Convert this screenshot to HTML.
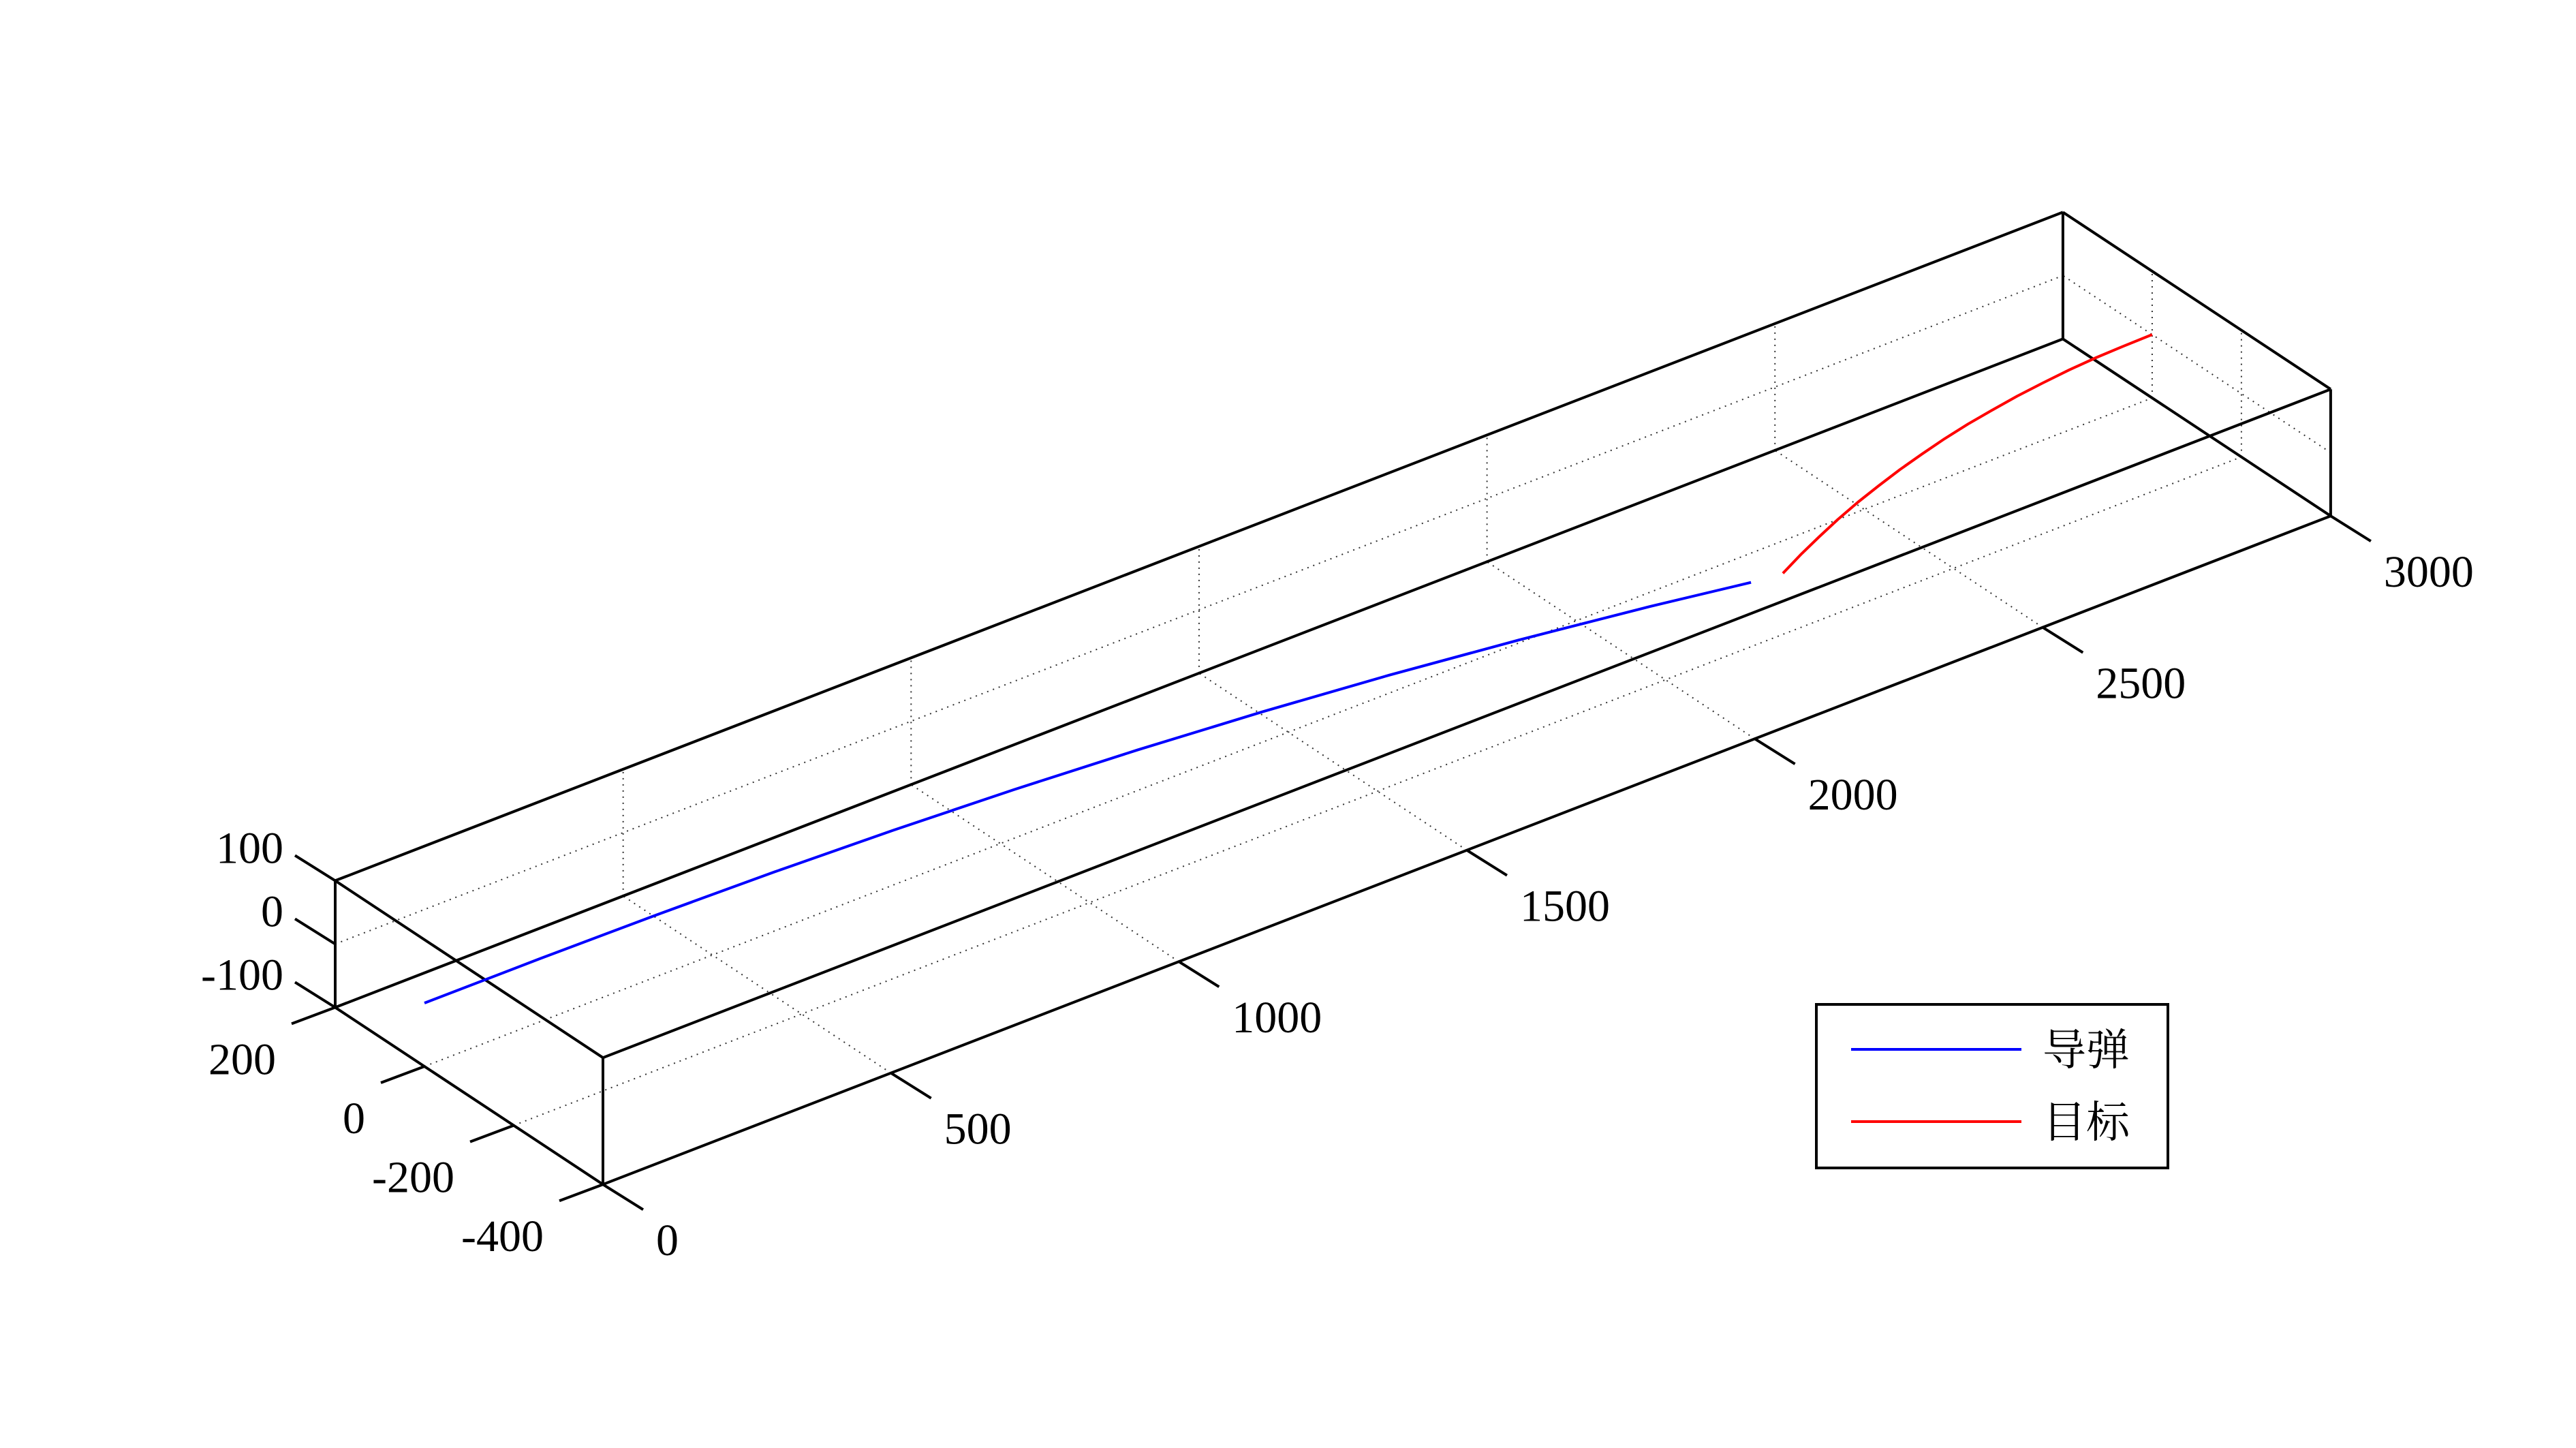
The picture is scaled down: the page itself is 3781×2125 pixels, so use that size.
<!DOCTYPE html>
<html><head><meta charset="utf-8"><style>
html,body{margin:0;padding:0;background:#fff;}
svg{display:block;}
text{font-family:"Liberation Serif","Noto Serif CJK SC",serif;fill:#000;}
</style></head>
<body>
<svg id="chart" width="3781" height="2125" viewBox="0 0 3781 2125" xmlns="http://www.w3.org/2000/svg">
<rect x="0" y="0" width="3781" height="2125" fill="#fff"/>
<g id="grid"></g>
<g id="box"></g>
<g id="ticks"></g>
<g id="series"></g>
<g>
  <rect x="2666" y="1474" width="516" height="240" fill="#fff" stroke="#000" stroke-width="4"/>
  <line x1="2717" y1="1540" x2="2967" y2="1540" stroke="#0000ff" stroke-width="4"/>
  <text x="2998" y="1563" font-size="64">导弹</text>
  <line x1="2717" y1="1646" x2="2967" y2="1646" stroke="#ff0000" stroke-width="4"/>
  <text x="2998" y="1669" font-size="64">目标</text>
</g>
</svg>
<script>
const xTicks = [0, 500, 1000, 1500, 2000, 2500, 3000];
const yTicks = [-400, -200, 0, 200];
const zTicks = [-100, 0, 100];
const xLabels = ["0", "500", "1000", "1500", "2000", "2500", "3000"];
const yLabels = ["-400", "-200", "0", "200"];
const zLabels = ["-100", "0", "100"];
const missileX = [0, 200, 400, 600, 800, 1000, 1200, 1400, 1600, 1800, 2000, 2150];
const missileY = [0, -0.7, -3.5, -9.2, -18.4, -31.4, -48.7, -70.5, -97, -129, -166, -198];
const missileZ = [0, 0, 0, 0, 0, 0, 0, 0, 0, 0, 0, 0];
const targetX = [3000, 2950, 2900, 2850, 2800, 2750, 2700, 2650, 2600, 2550, 2500, 2450, 2400, 2350, 2300, 2250, 2200];
const targetY = [0, -1, -3, -7, -13, -20, -29, -39, -51, -65, -80, -97, -115, -135, -157, -180, -205];
const targetZ = [0, 0, 0, 0, 0, 0, 0, 0, 0, 0, 0, 0, 0, 0, 0, 0, 0];

const X0 = 0, X1 = 3000, Y0 = -400, Y1 = 200, Z0 = -100, Z1 = 100;
const O = [623, 1472];
const ex = [0.8453, -0.327], ey = [-0.655, -0.433], ez = [0, -0.93];
function P(x, y, z) {
  return [O[0] + x*ex[0] + y*ey[0] + z*ez[0], O[1] + x*ex[1] + y*ey[1] + z*ez[1]];
}
const NS = "http://www.w3.org/2000/svg";
function line(g, a, b, w, dash, name) {
  const l = document.createElementNS(NS, "line");
  l.setAttribute("x1", a[0]); l.setAttribute("y1", a[1]);
  l.setAttribute("x2", b[0]); l.setAttribute("y2", b[1]);
  l.setAttribute("stroke", dash ? "#333" : "#000");
  l.setAttribute("stroke-width", w);
  if (dash) l.setAttribute("stroke-dasharray", "2 7");
  
  
  g.appendChild(l);
}
function text(g, x, y, s, anchor, name) {
  const t = document.createElementNS(NS, "text");
  t.setAttribute("x", x); t.setAttribute("y", y);
  t.setAttribute("font-size", "66");
  t.setAttribute("text-anchor", anchor);
  t.textContent = s;
  
  
  g.appendChild(t);
}
const grid = document.getElementById("grid");
xTicks.forEach(x => {
  if (x === X0 || x === X1) return;
  line(grid, P(x, Y0, Z0), P(x, Y1, Z0), 2, true, "floor-grid-x");
  line(grid, P(x, Y1, Z0), P(x, Y1, Z1), 2, true, "backwall-grid-x");
});
yTicks.forEach(y => {
  if (y === Y0 || y === Y1) return;
  line(grid, P(X0, y, Z0), P(X1, y, Z0), 2, true, "floor-grid-y");
  line(grid, P(X1, y, Z0), P(X1, y, Z1), 2, true, "sidewall-grid-y");
});
zTicks.forEach(z => {
  if (z === Z0 || z === Z1) return;
  line(grid, P(X0, Y1, z), P(X1, Y1, z), 2, true, "backwall-grid-z");
  line(grid, P(X1, Y0, z), P(X1, Y1, z), 2, true, "sidewall-grid-z");
});
const box = document.getElementById("box");
[Z0, Z1].forEach(z => {
  line(box, P(X0, Y0, z), P(X1, Y0, z), 4, false, "box-edge");
  line(box, P(X0, Y1, z), P(X1, Y1, z), 4, false, "box-edge");
  line(box, P(X0, Y0, z), P(X0, Y1, z), 4, false, "box-edge");
  line(box, P(X1, Y0, z), P(X1, Y1, z), 4, false, "box-edge");
});
[[X0, Y0], [X0, Y1], [X1, Y0], [X1, Y1]].forEach(c => line(box, P(c[0], c[1], Z0), P(c[0], c[1], Z1), 4, false, "box-edge"));

const tk = document.getElementById("ticks");
xTicks.forEach((x, i) => {
  const p = P(x, Y0, Z0);
  line(tk, p, [p[0] + 59, p[1] + 37], 4, false, "x-tick");
  text(tk, p[0] + 78, p[1] + 104, xLabels[i], "start", "x-tick-label");
});
yTicks.forEach((y, i) => {
  const p = P(X0, y, Z0);
  line(tk, p, [p[0] - 64, p[1] + 24], 4, false, "y-tick");
  text(tk, p[0] - 87, p[1] + 98, yLabels[i], "end", "y-tick-label");
});
zTicks.forEach((z, i) => {
  const p = P(X0, Y1, z);
  line(tk, p, [p[0] - 59, p[1] - 37], 4, false, "z-tick");
  text(tk, p[0] - 76, p[1] - 26, zLabels[i], "end", "z-tick-label");
});

const ser = document.getElementById("series");
function path(xs, ys, zs, color, name) {
  const pts = xs.map((x, i) => P(x, ys[i], zs[i]).map(v => v.toFixed(1)).join(","));
  const pl = document.createElementNS(NS, "polyline");
  pl.setAttribute("points", pts.join(" "));
  pl.setAttribute("fill", "none");
  pl.setAttribute("stroke", color);
  pl.setAttribute("stroke-width", "4");
  pl.setAttribute("stroke-linejoin", "round");
  
  
  ser.appendChild(pl);
}
path(missileX, missileY, missileZ, "#0000ff", "missile-trajectory");
path(targetX, targetY, targetZ, "#ff0000", "target-trajectory");
</script>
</body></html>
